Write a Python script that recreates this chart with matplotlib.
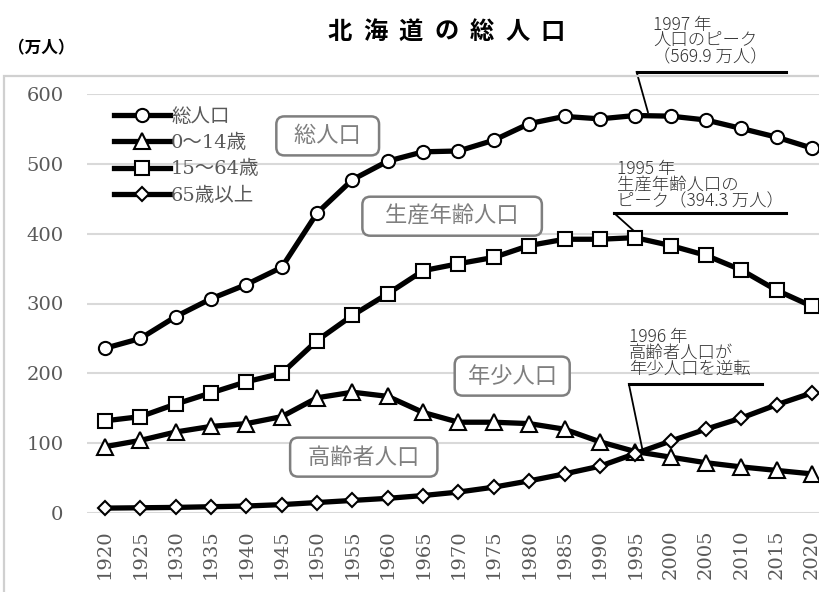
import matplotlib
matplotlib.use('Agg')
import matplotlib.pyplot as plt
from matplotlib.patches import Rectangle

# データ（万人）
years = [1920, 1925, 1930, 1935, 1940, 1945, 1950, 1955, 1960, 1965, 1970,
         1975, 1980, 1985, 1990, 1995, 2000, 2005, 2010, 2015, 2020]
total = [235.9, 249.9, 281.2, 306.8, 327.2, 351.8, 429.6, 477.3, 503.9, 517.2, 518.4,
         533.8, 557.6, 567.9, 564.4, 569.2, 568.3, 562.8, 550.7, 538.2, 522.5]
age_0_14 = [95, 104, 116, 124, 128, 138, 165, 173, 167, 144, 130,
            130, 128, 120, 102, 88, 80, 72, 66, 61, 56]
age_15_64 = [132, 138, 156, 172, 188, 200, 247, 283, 314, 347, 357,
             366, 383, 392, 392, 394.3, 383, 369, 348, 319, 296]
age_65 = [7, 7.5, 8, 9, 10, 12, 15, 18, 21, 25, 30,
          37, 46, 56, 67, 85, 103, 120, 136, 155, 172]
yticks = [0, 100, 200, 300, 400, 500, 600]

JP = ['Noto Sans CJK JP', 'DejaVu Sans']
SERIF_JP = ['DejaVu Serif', 'Noto Sans CJK JP']

fig = plt.figure(figsize=(8.19, 5.92), dpi=100)

# グラフエリアの枠
fig.patches.append(Rectangle((4/819, -0.01), 1.0, (592-76)/592 + 0.01,
                             transform=fig.transFigure, fill=False,
                             edgecolor='#d0d0d0', lw=1.6))

ax = fig.add_axes([87/819, 79/592, 732/819, 419/592])
ax.set_xlim(1917.45, 2021.0)
ax.set_ylim(0, 600)
for s in ax.spines.values():
    s.set_visible(False)
ax.set_yticks(yticks)
ax.yaxis.grid(True, color='#d9d9d9', lw=1.5)
ax.set_axisbelow(True)
ax.tick_params(length=0)
ax.set_xticks(years)
ax.set_xticklabels([str(y) for y in years], rotation=90, fontsize=14,
                   family='DejaVu Serif', color='#595959')
for lb in ax.get_yticklabels():
    lb.set_family('DejaVu Serif')
    lb.set_fontsize(14)
    lb.set_color('#595959')
ax.tick_params(axis='y', pad=17)
ax.tick_params(axis='x', pad=12)

kw = dict(color='black', lw=3.8, mfc='white', mec='black', mew=1.5, clip_on=False, zorder=3)
ax.plot(years, total, marker='o', ms=9.5, label='総人口', **kw)
ax.plot(years, age_0_14, marker='^', ms=11.5, label='0～14歳', **kw)
ax.plot(years, age_15_64, marker='s', ms=9.5, label='15～64歳', **kw)
ax.plot(years, age_65, marker='D', ms=7.5, label='65歳以上', **kw)

leg = ax.legend(loc='upper left', bbox_to_anchor=(104/819, 1 - 98/592),
                bbox_transform=fig.transFigure, frameon=False,
                handlelength=2.9, handletextpad=0.05, labelspacing=0.42,
                borderpad=0, prop={'family': SERIF_JP, 'size': 14})
for t in leg.get_texts():
    t.set_color('#595959')

# 系列名の枠付きラベル
box = dict(boxstyle='round,pad=0.36', fc='white', ec='#7f7f7f', lw=1.8)
labels = [('  総人口  ', 1951.5, 540), ('   生産年齢人口   ', 1969.1, 425),
          (' 年少人口 ', 1977.6, 196), ('  高齢者人口  ', 1956.6, 80)]
for txt, x, y in labels:
    ax.text(x, y, txt, ha='center', va='center', fontsize=16, color='#7f7f7f',
            family=JP, bbox=box, zorder=4)

# 注記
notes = [('1997 年\n人口のピーク\n（569.9 万人）', 1997.5, 640,
          (1995.2, 2016.3, 631.5), (1996.8, 574)),
         ('1995 年\n生産年齢人口の\nピーク（394.3 万人）', 1992.4, 434,
          (1992.0, 2016.3, 429.6), (1994.7, 405)),
         ('1996 年\n高齢者人口が\n年少人口を逆転', 1994.1, 194,
          (1994.1, 2012.9, 184.7), (1996.1, 87))]
for txt, tx, ty, (x0, x1, yl), (px, py) in notes:
    ax.text(tx, ty, txt, ha='left', va='bottom', fontsize=12.5, family=JP,
            fontweight='light', color='#333333', linespacing=0.85, zorder=5)
    ax.plot([x0, x1], [yl, yl], color='black', lw=2.2, clip_on=False, zorder=5)
    ax.plot([x0, px], [yl, py], color='black', lw=1.3, clip_on=False, zorder=5)

# タイトル（文字間隔を広げる）
for i, ch in enumerate('北海道の総人口'):
    fig.text((340 + i * 35.5) / 819, 1 - 32/592, ch, ha='center', va='center',
             fontsize=17.5, fontweight='bold', family=JP)
fig.text(8/819, 1 - 48/592, '（万人）', ha='left', va='center',
         fontsize=12, fontweight='bold', family=JP)

fig.savefig('out.png', dpi=100)
